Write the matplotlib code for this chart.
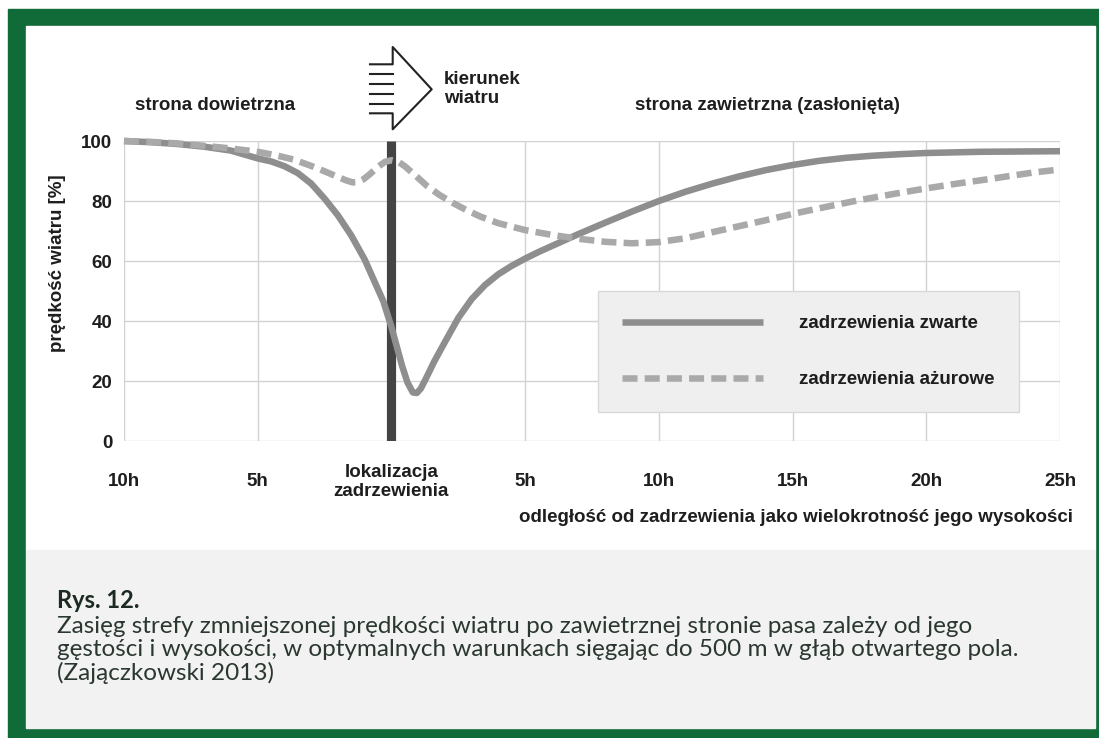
import matplotlib
matplotlib.use('Agg')
import matplotlib.pyplot as plt
from matplotlib.patches import Rectangle
from matplotlib.lines import Line2D

W, H = 1099, 738

# odległość od zadrzewienia w wielokrotnościach wysokości (ujemne = strona dowietrzna)
x_zwarte = [-10, -9, -8, -7, -6, -5, -4.5, -4, -3.5, -3, -2.5, -2, -1.5, -1, -0.6, -0.3,
            0, 0.2, 0.4, 0.6, 0.8, 0.95, 1.1, 1.3, 1.6, 2.0, 2.5, 3.0, 3.5, 4.0, 4.5, 5,
            5.5, 6, 7, 8, 9, 10, 11, 12, 13, 14, 15, 16, 17, 18, 19, 20, 21, 22, 23.5, 25]
y_zwarte = [100, 99.6, 99, 98.1, 96.8, 94.2, 93.2, 91.6, 89.3, 85.8, 80.8, 75.2, 68.5,
            60.5, 52.5, 46.5, 38, 31.5, 25, 19.5, 16.2, 16, 17.5, 21, 26.5, 33, 41, 47.3,
            52, 55.6, 58.4, 60.8, 63, 65, 69, 72.8, 76.5, 80, 83.1, 85.8, 88.2, 90.3, 92,
            93.4, 94.4, 95.1, 95.6, 96, 96.2, 96.4, 96.5, 96.6]

x_azurowe = [-10, -9, -8, -7, -6, -5, -4.3, -3.65, -3, -2.5, -2, -1.7, -1.45, -1.25,
             -1.05, -0.8, -0.5, -0.25, 0, 0.25, 0.5, 0.9, 1.33, 1.8, 2.33, 2.8, 3.33, 4,
             5, 6, 7, 8, 9, 10, 11, 12, 13, 14, 15, 16.5, 17.5, 19, 20, 21, 22.5, 24, 25]
y_azurowe = [100, 99.7, 99.2, 98.4, 97.5, 96.4, 95.2, 93.8, 91.7, 89.9, 88, 86.9, 86.2,
             86.3, 87.2, 89, 91.4, 93, 93.6, 93.1, 91.6, 88.5, 85, 82, 79.2, 77, 74.8,
             72.6, 70.3, 68.7, 67.4, 66.4, 65.9, 66.3, 67.6, 69.6, 71.6, 73.6, 75.7, 78.5,
             80.3, 82.7, 84.2, 85.6, 87.5, 89.5, 90.5]

tick_pos = [-10, -5, 0, 5, 10, 15, 20, 25]
tick_labels = ['10h', '5h', 'lokalizacja\nzadrzewienia', '5h', '10h', '15h', '20h', '25h']
y_ticks = [0, 20, 40, 60, 80, 100]

green = '#106b38'
txt = '#1e1e1e'
fs = 13.5
plt.rcParams['font.family'] = ['Liberation Sans', 'DejaVu Sans']


def fx(px):
    return px / W


def fy(py):
    return 1 - py / H


fig = plt.figure(figsize=(W / 100, H / 100), dpi=100)
fig.patch.set_facecolor('white')

# ramka i tła
fig.patches.append(Rectangle((fx(8), 0), 1 - fx(8), (H - 9) / H,
                             transform=fig.transFigure, color=green, zorder=-3))
fig.patches.append(Rectangle((fx(26), fy(550)), 1069 / W, 524 / H,
                             transform=fig.transFigure, color='white', zorder=-2))
fig.patches.append(Rectangle((fx(26), fy(728)), 1069 / W, 178 / H,
                             transform=fig.transFigure, color='#f2f2f2', zorder=-2))

ax = fig.add_axes([fx(124), fy(441), 936 / W, 300 / H])
ax.set_facecolor('none')
ax.set_xlim(-10, 25)
ax.set_ylim(0, 100)
for s in ax.spines.values():
    s.set_visible(False)
ax.grid(True, color='#d2d2d2', lw=1)
ax.set_axisbelow(True)

ax.set_xticks(tick_pos, tick_labels)
ax.set_yticks(y_ticks)
ax.tick_params(axis='both', length=0, labelsize=fs, labelcolor=txt)
ax.tick_params(axis='x', pad=29.5)
ax.tick_params(axis='y', pad=8.5)
for lbl in ax.get_xticklabels():
    lbl.set_fontweight('bold')
    lbl.set_va('center')
    lbl.set_linespacing(1.1)
for lbl in ax.get_yticklabels():
    lbl.set_fontweight('bold')

ax.axvline(0, color='#444444', lw=6.6, solid_capstyle='butt', zorder=2)
l1, = ax.plot(x_zwarte, y_zwarte, color='#8e8e8e', lw=4.7, solid_capstyle='butt',
              solid_joinstyle='round', clip_on=False, zorder=3)
l2, = ax.plot(x_azurowe, y_azurowe, color='#a9a9a9', lw=4.7, dashes=(2.3, 1.1),
              dash_capstyle='butt', dash_joinstyle='round', clip_on=False, zorder=4)

leg = ax.legend([l1, l2], ['zadrzewienia zwarte', 'zadrzewienia ażurowe'],
                loc='upper left', bbox_to_anchor=(fx(598), fy(291)),
                bbox_transform=fig.transFigure, borderaxespad=0, fancybox=False,
                frameon=True, facecolor='#efefef', edgecolor='#d8d8d8', framealpha=1,
                handlelength=7.5, handletextpad=1.9, labelspacing=2.05, borderpad=1.3,
                prop={'size': fs, 'weight': 'bold'})
for t in leg.get_texts():
    t.set_color(txt)

# opisy
fig.text(fx(135), fy(105), 'strona dowietrzna', fontsize=fs, fontweight='bold',
         color=txt, va='center', ha='left')
fig.text(fx(635), fy(106), 'strona zawietrzna (zasłonięta)', fontsize=fs,
         fontweight='bold', color=txt, va='center', ha='left')
fig.text(fx(444), fy(89), 'kierunek\nwiatru', fontsize=fs, fontweight='bold',
         color=txt, va='center', ha='left', linespacing=1.15)
fig.text(fx(57), fy(263), 'prędkość wiatru [%]', fontsize=fs, fontweight='bold',
         color=txt, va='center', ha='center', rotation=90)
fig.text(fx(1073), fy(517), 'odległość od zadrzewienia jako wielokrotność jego wysokości',
         fontsize=fs, fontweight='bold', color=txt, va='center', ha='right')

# strzałka kierunku wiatru
ax_x = [370, 392.7, 392.7, 431.7, 392.7, 392.7, 370]
ax_y = [64.3, 64.3, 47, 89.3, 129.3, 113.3, 113.3]
fig.add_artist(Line2D([fx(v) for v in ax_x], [fy(v) for v in ax_y],
                      transform=fig.transFigure, color='#222222', lw=1.5))
for yy in [74, 84, 94, 104]:
    fig.add_artist(Line2D([fx(370), fx(393)], [fy(yy), fy(yy)],
                          transform=fig.transFigure, color='#222222', lw=1.5))

# podpis
fig.text(fx(57), fy(600), 'Rys. 12.', fontsize=17, fontweight='bold',
         family=['Lato', 'DejaVu Sans'], color='#1c2b22', va='center', ha='left')
fig.text(fx(57), fy(616),
         'Zasięg strefy zmniejszonej prędkości wiatru po zawietrznej stronie pasa zależy od jego\n'
         'gęstości i wysokości, w optymalnych warunkach sięgając do 500 m w głąb otwartego pola.\n'
         '(Zajączkowski 2013)',
         fontsize=17.45, family=['Lato', 'DejaVu Sans'], color='#2a3830', va='top', ha='left',
         linespacing=1.12)

fig.savefig('out.png', dpi=100)
